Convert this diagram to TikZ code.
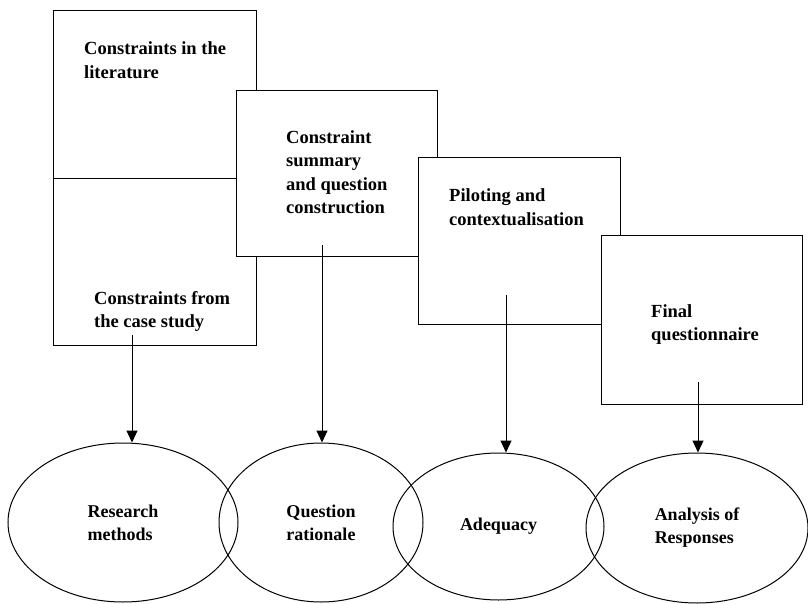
\documentclass[tikz,border=0pt]{standalone}
\usepackage{fontspec}
\setmainfont{Liberation Serif}
\usetikzlibrary{shapes.geometric, arrows.meta}
\tikzset{
x=1pt, y=-1pt, % work in pixels of the page, y down
>={Triangle[length=12pt, width=11pt]}, % filled heads on the arrows
box/.style={draw, fill=white, line width=1pt, anchor=north west, minimum width=202pt, minimum height=167pt, inner sep=0pt}, % the steps
oval/.style={ellipse, draw, line width=1pt, inner sep=0pt, align=left, font=\bfseries\fontsize{18}{23}\selectfont}, % the outcomes
lbl/.style={anchor=west, align=left, inner sep=0pt, font=\bfseries\fontsize{18.5}{23.5}\selectfont}, % text in the boxes
}
\begin{document}
\begin{tikzpicture}
    \useasboundingbox (0,0) rectangle (808,604);
    % the steps, each one on top of the one before
    \node[box, minimum width=203pt, minimum height=168pt] (lit) at (53,10) {};
    \node[box, minimum width=203pt] (case) at (53,178) {};
    \node[lbl] (littext) at (84,60) {Constraints in the\\literature};
    \node[lbl] (casetext) at (94,311.5) {Constraints from\\the case study};
    \node[box, minimum width=201pt, minimum height=166pt] (summ) at (236,90) {};
    \node[lbl] (summtext) at (286,172) {Constraint\\summary\\and question\\construction};
    \node[box] (pilot) at (418,157) {};
    \node[lbl] (pilottext) at (449,207) {Piloting and\\contextualisation};
    \node[box, minimum width=201pt, minimum height=169pt] (final) at (601,235) {};
    \node[lbl] (finaltext) at (651,324.5) {Final\\questionnaire};
    % the outcomes
    \node[oval, minimum width=230pt, minimum height=159pt] (methods) at (123,522.5) {Research\\methods};
    \node[oval, minimum width=204pt, minimum height=159pt] (rationale) at (321,522.5) {Question\\rationale};
    \node[oval, minimum width=211pt, minimum height=147pt] (adequacy) at (498.5,526.5) {Adequacy};
    \node[oval, minimum width=222pt, minimum height=150pt] (analysis) at (697,528) {Analysis of\\Responses};
    % where the arrows leave the boxes
    \coordinate (s1) at (132,335);
    \coordinate (s2) at (322,245);
    \coordinate (s3) at (506,295);
    \coordinate (s4) at (698,382);
    \path[->, line width=1pt]
    (s1) edge (s1 |- methods.north)
    (s2) edge (s2 |- rationale.north)
    (s3) edge (s3 |- adequacy.north)
    (s4) edge (s4 |- analysis.north);
\end{tikzpicture}
\end{document}
